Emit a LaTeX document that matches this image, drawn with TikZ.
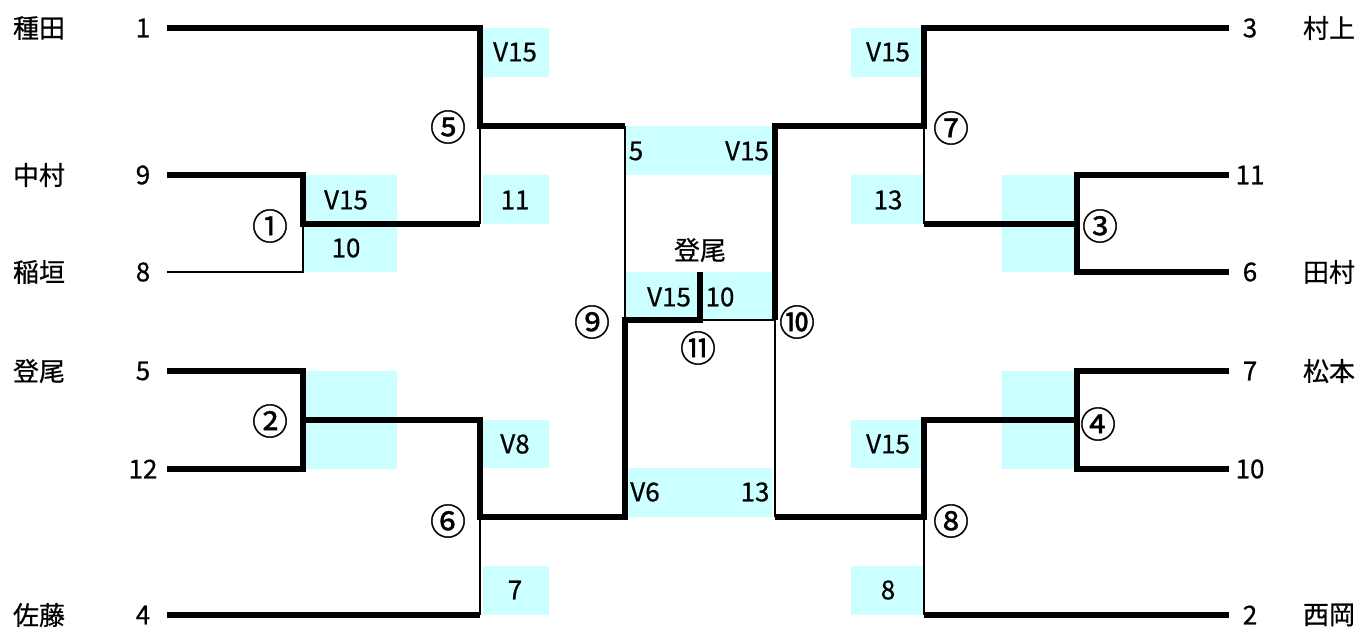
\documentclass[tikz,border=0pt]{standalone}
\usepackage{fontspec}
\setmainfont{Noto Sans CJK JP}[FakeBold=0.6]
\newfontfamily\circfont{Noto Sans CJK JP}[FakeBold=1]
\definecolor{cellc}{HTML}{CCFFFF}
\begin{document}
\begin{tikzpicture}[x=1pt,y=-1pt,
  thk/.style={line width=6.5pt, line join=miter},
  thn/.style={line width=2pt},
  lbl/.style={inner sep=0pt, font=\fontsize{26}{30}\selectfont},
  circ/.style={inner sep=0pt, font=\circfont\fontsize{36}{40}\selectfont}]
\useasboundingbox (0,0) rectangle (1362,628);
% cells
\fill[cellc] (303,175) rectangle (397,272);
\fill[cellc] (483,28) rectangle (549,77);
\fill[cellc] (483,175) rectangle (549,224);
\fill[cellc] (303,371) rectangle (397,469);
\fill[cellc] (483,420) rectangle (549,468);
\fill[cellc] (483,566) rectangle (549,615);
\fill[cellc] (625,126) rectangle (772,175);
\fill[cellc] (625,272) rectangle (772,320);
\fill[cellc] (625,468) rectangle (772,517);
\fill[cellc] (851,28) rectangle (924,77);
\fill[cellc] (851,175) rectangle (924,224);
\fill[cellc] (1002,175) rectangle (1077,272);
\fill[cellc] (1002,371) rectangle (1077,469);
\fill[cellc] (851,420) rectangle (924,468);
\fill[cellc] (851,566) rectangle (924,615);
% coordinates
\coordinate (L1) at (167,28);  \coordinate (L9) at (167,175);
\coordinate (L8) at (167,272); \coordinate (L5) at (167,371);
\coordinate (L12) at (167,469); \coordinate (L4) at (167,615);
\coordinate (m1) at (303,224); \coordinate (m1a) at (303,175); \coordinate (m1b) at (303,272);
\coordinate (m2) at (303,420); \coordinate (m2a) at (303,371); \coordinate (m2b) at (303,469);
\coordinate (m5) at (480,126); \coordinate (m5a) at (480,28); \coordinate (m5b) at (480,224);
\coordinate (m6) at (480,517); \coordinate (m6a) at (480,420); \coordinate (m6b) at (480,615);
\coordinate (m9) at (625,320); \coordinate (m9a) at (625,126); \coordinate (m9b) at (625,517);
\coordinate (m11) at (700,320); \coordinate (m11t) at (700,272);
\coordinate (m10) at (775,320); \coordinate (m10a) at (775,126); \coordinate (m10b) at (775,517);
\coordinate (m7) at (924,126); \coordinate (m7a) at (924,28); \coordinate (m7b) at (924,224);
\coordinate (m8) at (924,517); \coordinate (m8a) at (924,420); \coordinate (m8b) at (924,615);
\coordinate (m3) at (1077,224); \coordinate (m3a) at (1077,175); \coordinate (m3b) at (1077,272);
\coordinate (m4) at (1077,420); \coordinate (m4a) at (1077,371); \coordinate (m4b) at (1077,469);
\coordinate (R3) at (1229,28); \coordinate (R11) at (1229,175); \coordinate (R6) at (1229,272);
\coordinate (R7) at (1229,371); \coordinate (R10) at (1229,469); \coordinate (R2) at (1229,615);
% thin lines
\draw[thn] (m5) -- (m5b);
\draw[thn] (m1) -- (m1b) -- (L8);
\draw[thn] (m6) -- (m6b);
\draw[thn] (m9a) -- (m9);
\draw[thn] (m11) -- (m10) -- (m10b);
\draw[thn] (m7) -- (m7b);
\draw[thn] (m8) -- (m8b);
% thick lines
\draw[thk] (L1) -- (m5a) -- (m5) -- (m9a);
\draw[thk] (L9) -- (m1a) -- (m1) -- (m5b);
\draw[thk] (L5) -- (m2a) -- (m2b) -- (L12);
\draw[thk] (m2) -- (m6a) -- (m6) -- (m9b) -- (m9) -- (m11) -- (m11t);
\draw[thk] (L4) -- (m6b);
\draw[thk] (R3) -- (m7a) -- (m7) -- (m10a) -- (m10);
\draw[thk] (m7b) -- (m3);
\draw[thk] (R11) -- (m3a) -- (m3b) -- (R6);
\draw[thk] (m10b) -- (m8) -- (m8a) -- (m4);
\draw[thk] (R7) -- (m4a) -- (m4b) -- (R10);
\draw[thk] (m8b) -- (R2);
% names
\node[lbl] (nTaneda) at (39,28) {種田};
\node[lbl] (nNakamura) at (39,175) {中村};
\node[lbl] (nInagaki) at (39,272) {稲垣};
\node[lbl] (nNoo) at (39,371) {登尾};
\node[lbl] (nSato) at (39,615) {佐藤};
\node[lbl] (nMurakami) at (1329,28) {村上};
\node[lbl] (nTamura) at (1329,272) {田村};
\node[lbl] (nMatsumoto) at (1329,371) {松本};
\node[lbl] (nNishioka) at (1329,615) {西岡};
% seeds
\node[lbl] (s1) at (143,28) {1};
\node[lbl] (s9) at (143,175) {9};
\node[lbl] (s8) at (143,272) {8};
\node[lbl] (s5) at (143,371) {5};
\node[lbl] (s12) at (143,469) {12};
\node[lbl] (s4) at (143,615) {4};
\node[lbl] (s3) at (1250,28) {3};
\node[lbl] (s11) at (1250,175) {11};
\node[lbl] (s6) at (1250,272) {6};
\node[lbl] (s7) at (1250,371) {7};
\node[lbl] (s10) at (1250,469) {10};
\node[lbl] (s2) at (1250,615) {2};
% scores
\node[lbl] (t1a) at (346,200) {V15};
\node[lbl] (t1b) at (346,248) {10};
\node[lbl] (t5a) at (515,52) {V15};
\node[lbl] (t5b) at (515,200) {11};
\node[lbl] (t6a) at (515,444) {V8};
\node[lbl] (t6b) at (515,590) {7};
\node[lbl] (t9a) at (636,151) {5};
\node[lbl] (t9b) at (747,151) {V15};
\node[lbl] (t11a) at (669,297) {V15};
\node[lbl] (t11b) at (720,297) {10};
\node[lbl] (t10a) at (645,492) {V6};
\node[lbl] (t10b) at (755,492) {13};
\node[lbl] (t7a) at (888,52) {V15};
\node[lbl] (t7b) at (888,200) {13};
\node[lbl] (t8a) at (888,444) {V15};
\node[lbl] (t8b) at (888,590) {8};
\node[lbl] (champ) at (700,250) {登尾};
% match numbers
\node[circ] (c1) at (270,226) {①};
\node[circ] (c2) at (270,421) {②};
\node[circ] (c3) at (1100,226) {③};
\node[circ] (c4) at (1098,424) {④};
\node[circ] (c5) at (448,127) {⑤};
\node[circ] (c6) at (448,521) {⑥};
\node[circ] (c7) at (951,128) {⑦};
\node[circ] (c8) at (951,521) {⑧};
\node[circ] (c9) at (592,322) {⑨};
\node[circ] (c10) at (797,322) {⑩};
\node[circ] (c11) at (698,348) {⑪};
\end{tikzpicture}
\end{document}
